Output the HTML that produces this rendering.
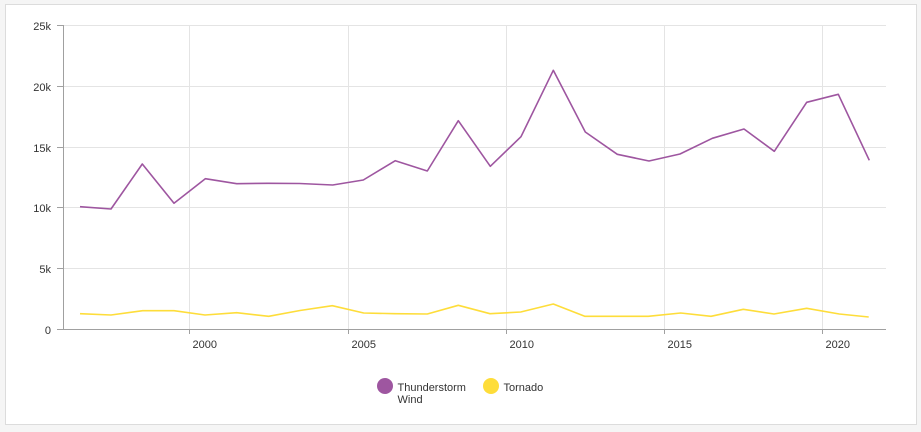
<!DOCTYPE html>
<html><head><meta charset="utf-8"><style>
html,body{margin:0;padding:0;background:#f5f5f5;width:921px;height:432px;overflow:hidden}
.card{position:absolute;left:5px;top:4px;width:912px;height:421px;background:#fff;border:1px solid #dcdcdc;box-sizing:border-box}
svg{position:absolute;left:0;top:0}
text{font-family:"Liberation Sans",sans-serif;font-size:11px;fill:#333}
</style></head><body>
<div class="card"></div>
<svg width="921" height="432" viewBox="0 0 921 432">
<g stroke="#e4e4e4" stroke-width="1" shape-rendering="crispEdges">
<line x1="63" y1="25.5" x2="886" y2="25.5"/>
<line x1="63" y1="86.5" x2="886" y2="86.5"/>
<line x1="63" y1="147.5" x2="886" y2="147.5"/>
<line x1="63" y1="207.5" x2="886" y2="207.5"/>
<line x1="63" y1="268.5" x2="886" y2="268.5"/>
<line x1="189.5" y1="25" x2="189.5" y2="329"/>
<line x1="348.5" y1="25" x2="348.5" y2="329"/>
<line x1="506.5" y1="25" x2="506.5" y2="329"/>
<line x1="664.5" y1="25" x2="664.5" y2="329"/>
<line x1="822.5" y1="25" x2="822.5" y2="329"/>
</g>
<g stroke="#a0a0a0" stroke-width="1" shape-rendering="crispEdges">
<line x1="63.5" y1="25" x2="63.5" y2="330"/>
<line x1="63" y1="329.5" x2="886" y2="329.5"/>
<line x1="57" y1="25.5" x2="63" y2="25.5"/>
<line x1="57" y1="86.5" x2="63" y2="86.5"/>
<line x1="57" y1="147.5" x2="63" y2="147.5"/>
<line x1="57" y1="207.5" x2="63" y2="207.5"/>
<line x1="57" y1="268.5" x2="63" y2="268.5"/>
<line x1="57" y1="329.5" x2="63" y2="329.5"/>
<line x1="189.5" y1="329" x2="189.5" y2="334"/>
<line x1="348.5" y1="329" x2="348.5" y2="334"/>
<line x1="506.5" y1="329" x2="506.5" y2="334"/>
<line x1="664.5" y1="329" x2="664.5" y2="334"/>
<line x1="822.5" y1="329" x2="822.5" y2="334"/>
</g>
<g text-anchor="end">
<text x="51" y="30">25k</text>
<text x="51" y="91">20k</text>
<text x="51" y="152">15k</text>
<text x="51" y="212">10k</text>
<text x="51" y="273">5k</text>
<text x="51" y="334">0</text>
</g>
<g>
<text x="192.5" y="348">2000</text>
<text x="351.5" y="348">2005</text>
<text x="509.5" y="348">2010</text>
<text x="667.5" y="348">2015</text>
<text x="825.5" y="348">2020</text>
</g>
<polyline fill="none" stroke="#9e56a0" stroke-width="1.6" stroke-linejoin="round" points="80,206.7 111,209 142.3,164 174,203.3 205.3,178.7 236.7,183.7 268,183.3 299.6,183.5 332.7,185 363.3,180 395.3,160.7 427.3,171 458.3,120.7 490.3,166.3 521,136.7 553.3,70.3 585.3,132 617.3,154.3 649,161 680,154 712.3,138.3 744,129 774.3,151.3 806.7,102.3 838.3,94.3 869.3,160.3"/>
<polyline fill="none" stroke="#fedd3a" stroke-width="1.6" stroke-linejoin="round" points="80,313.7 111,315 142.7,310.7 174,310.7 205,315 236.7,312.7 268.7,316.3 300,310.5 332.3,305.7 363.7,313 395,313.7 427.3,314 458.3,305.3 490,313.7 520.7,312 553.3,304 584.7,316.3 616,316.3 648.3,316.3 680.7,313 711,316.3 743.3,309.3 774,314 806.7,308.3 839.3,314 868.7,317"/>
<circle cx="385" cy="386" r="8" fill="#9e56a0"/>
<text x="397.5" y="391">Thunderstorm</text>
<text x="397.5" y="403">Wind</text>
<circle cx="491" cy="386" r="8" fill="#fedd3a"/>
<text x="503.5" y="391">Tornado</text>
</svg>
</body></html>
